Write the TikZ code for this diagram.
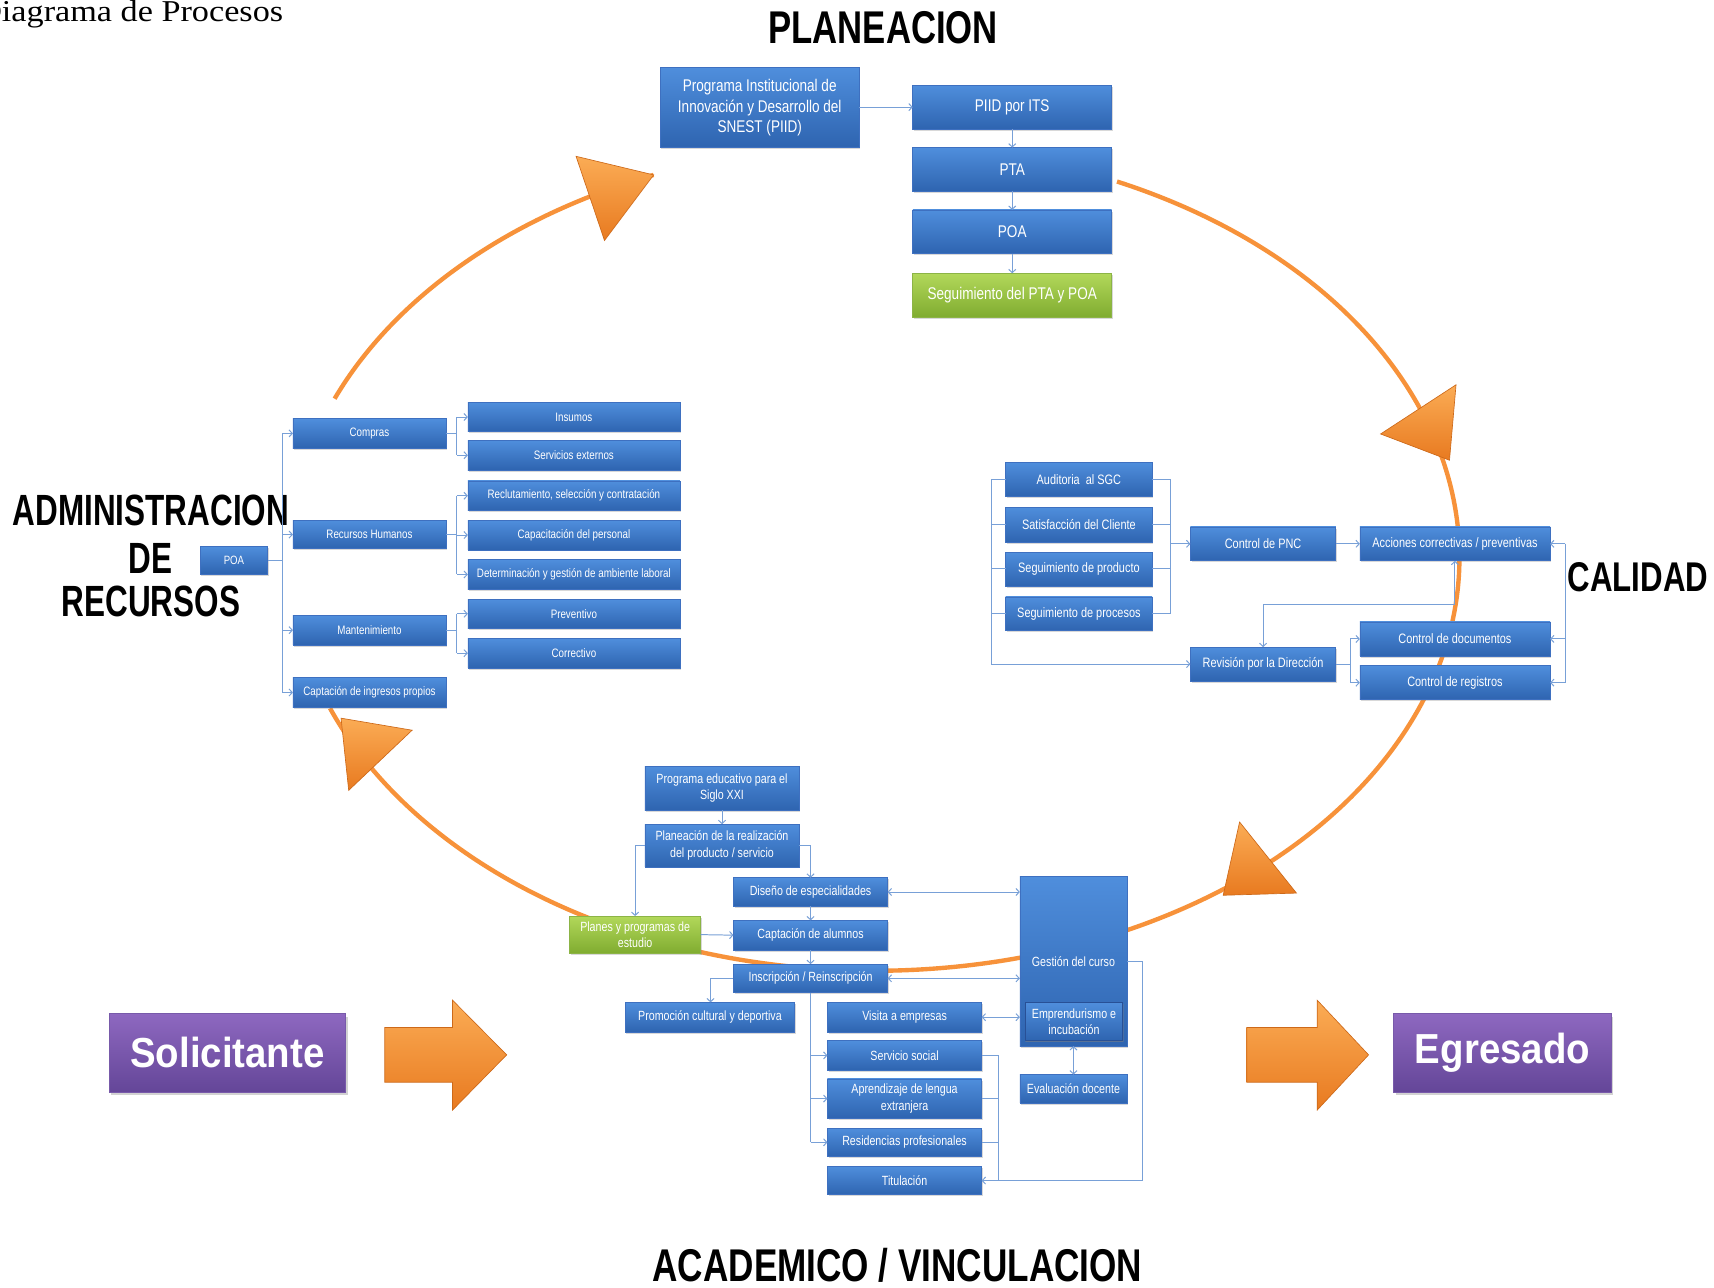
\documentclass[tikz,border=0pt]{standalone}
\usepackage{graphicx}
\usepackage{fontspec}
\setmainfont{Liberation Sans}
\newfontfamily\nar{Liberation Sans}[FakeStretch=0.8]
\newfontfamily\hdf{Liberation Sans}[FakeStretch=0.915]
\newfontfamily\serf{Liberation Serif}
\usetikzlibrary{arrows.meta,shadows}
\definecolor{bluetop}{RGB}{79,142,220}
\definecolor{bluebot}{RGB}{46,100,176}
\definecolor{bluebd}{RGB}{62,112,192}
\definecolor{innerbd}{RGB}{40,80,150}
\definecolor{greentop}{RGB}{178,216,90}
\definecolor{greenbot}{RGB}{128,172,48}
\definecolor{greenbd}{RGB}{140,180,70}
\definecolor{purtop}{RGB}{142,104,192}
\definecolor{purbot}{RGB}{100,70,152}
\definecolor{purbd}{RGB}{120,90,170}
\definecolor{connc}{RGB}{120,160,215}
\definecolor{ringc}{RGB}{247,146,58}
\definecolor{arrtop}{RGB}{251,172,85}
\definecolor{arrbot}{RGB}{232,122,32}
\definecolor{arrbd}{RGB}{205,105,25}
\newcommand\fsz[2]{\fontsize{#1}{#2}\selectfont}
\newcommand\bxat[7]{\node[#6, minimum width={(#4)-(#2)}, minimum height={(#5)-(#3)}] (#1) at ({((#2)+(#4))/2},{-((#3)+(#5))/2}) {#7};}
\begin{document}
\begin{tikzpicture}[x=1pt,y=1pt,
  >={Straight Barb[length=3pt,width=6.5pt]},
  conn/.style={draw=connc,line width=0.9pt},
  ring/.style={draw=ringc,line width=4pt},
  tri/.style={top color=arrtop,bottom color=arrbot,draw=arrbd,line width=0.6pt},
  bbox/.style={draw=bluebd,line width=0.6pt,top color=bluetop,bottom color=bluebot,text=white,align=center,inner sep=1pt,outer sep=0pt,drop shadow={shadow xshift=1pt,shadow yshift=-1.5pt,opacity=0.3}},
  gbox/.style={bbox,draw=greenbd,top color=greentop,bottom color=greenbot},
  ibox/.style={bbox,draw=innerbd,drop shadow={shadow xshift=0pt,shadow yshift=-1pt,opacity=0.3}},
  pbox/.style={draw=purbd,line width=0.8pt,top color=purtop,bottom color=purbot,text=white,align=center,inner sep=1pt,outer sep=0pt,drop shadow={shadow xshift=2pt,shadow yshift=-3pt,opacity=0.35}},
  ttl/.style={anchor=base,inner sep=0pt}]

\fill[white] (0,0) rectangle (1568,-1178);
\useasboundingbox (0,0) rectangle (1568,-1178);

% title
\node[anchor=base west,inner sep=0pt] (dtitle) at (-21,-20) {\serf\fsz{27.7}{30}\scalebox{1.13}[1]{Diagrama de Procesos}};

% ring
\draw[ring] ({800+535*cos(157.4)},{-510+378*sin(157.4)}) arc[start angle=157.4,end angle=112.2,x radius=535pt,y radius=378pt];
\draw[ring] ({800+535*cos(65.5)},{-510+378*sin(65.5)}) arc[start angle=65.5,end angle=-158.6,x radius=535pt,y radius=378pt];

% ring arrowheads
\path[tri] (527,-143) -- (598,-160) -- (553,-220) -- cycle;
\path[tri] (1332,-352) -- (1263,-397) -- (1326,-421) -- cycle;
\path[tri] (1134,-752) -- (1119,-819) -- (1186,-817) -- cycle;
\path[tri] (312,-657) -- (377,-668) -- (319,-723) -- cycle;

% big arrows
\path[tri] (352,-940) -- (414,-940) -- (414,-915) -- (463.5,-965) -- (414,-1015.5) -- (414,-990) -- (352,-990) -- cycle;
\path[tri] (1140.5,-940) -- (1205,-940) -- (1205,-915) -- (1252,-965) -- (1205,-1015.5) -- (1205,-990) -- (1140.5,-990) -- cycle;

% section titles
\node[ttl] (tplan) at (808,-39.6) {\fsz{42}{42}\bfseries\scalebox{0.756}[1]{PLANEACION}};
\node[ttl] (tadm1) at (138,-480.3) {\fsz{40}{40}\bfseries\scalebox{0.72}[1]{ADMINISTRACION}};
\node[ttl] (tadm2) at (138,-524.5) {\fsz{40}{40}\bfseries\scalebox{0.72}[1]{DE}};
\node[ttl] (tadm3) at (138,-564) {\fsz{40}{40}\bfseries\scalebox{0.72}[1]{RECURSOS}};
\node[ttl] (tcal) at (1498.5,-541.3) {\fsz{38}{38}\bfseries\scalebox{0.752}[1]{CALIDAD}};
\node[ttl] (taca) at (821,-1172.5) {\fsz{42}{42}\bfseries\scalebox{0.765}[1]{ACADEMICO / VINCULACION}};

% PLANEACION
\bxat{prog}{604}{62}{786}{135}{bbox,font=\nar\fsz{15.5}{19}}{Programa Institucional de\\Innovación y Desarrollo del\\SNEST (PIID)}
\bxat{piid}{835}{78}{1017}{118}{bbox,font=\nar\fsz{15.5}{19}}{PIID por ITS}
\bxat{pta}{835}{135}{1017}{175}{bbox,font=\nar\fsz{15.5}{19}}{PTA}
\bxat{poaP}{835}{192}{1017}{232}{bbox,font=\nar\fsz{15.5}{19}}{POA}
\bxat{segP}{835}{250}{1017}{290}{gbox,font=\nar\fsz{15.5}{19}}{Seguimiento del PTA y POA}

% ADMINISTRACION
\bxat{poaA}{183}{500}{245}{525}{bbox,font=\nar\fsz{11}{13}}{POA}
\bxat{compras}{268}{383}{408}{410}{bbox,font=\nar\fsz{11.2}{13}}{Compras}
\bxat{rh}{268}{476}{408}{502}{bbox,font=\nar\fsz{11.2}{13}}{Recursos Humanos}
\bxat{mant}{268}{563}{408}{590}{bbox,font=\nar\fsz{11.2}{13}}{Mantenimiento}
\bxat{captip}{268}{620}{408}{647}{bbox,font=\nar\fsz{11.2}{13}}{Captación de ingresos propios}
\bxat{insumos}{428}{368}{622}{395}{bbox,font=\nar\fsz{11.2}{13}}{Insumos}
\bxat{sext}{428}{403}{622}{430}{bbox,font=\nar\fsz{11.2}{13}}{Servicios externos}
\bxat{recl}{428}{440}{622}{467}{bbox,font=\nar\fsz{11.2}{13}}{Reclutamiento, selección y contratación}
\bxat{capa}{428}{476}{622}{503}{bbox,font=\nar\fsz{11.2}{13}}{Capacitación del personal}
\bxat{det}{428}{512}{622}{539}{bbox,font=\nar\fsz{11.2}{13}}{Determinación y gestión de ambiente laboral}
\bxat{prev}{428}{548}{622}{575}{bbox,font=\nar\fsz{11.2}{13}}{Preventivo}
\bxat{corr}{428}{584}{622}{611}{bbox,font=\nar\fsz{11.2}{13}}{Correctivo}

% CALIDAD
\bxat{aud}{920}{423}{1054}{454}{bbox,font=\nar\fsz{12.5}{15}}{Auditoria\ \ al SGC}
\bxat{sat}{920}{464}{1054}{496}{bbox,font=\nar\fsz{12.5}{15}}{Satisfacción del Cliente}
\bxat{prod}{920}{505}{1054}{536}{bbox,font=\nar\fsz{12.5}{15}}{Seguimiento de producto}
\bxat{proc}{920}{546}{1054}{577}{bbox,font=\nar\fsz{12.5}{15}}{Seguimiento de procesos}
\bxat{pnc}{1089}{482}{1222}{513}{bbox,font=\nar\fsz{12.5}{15}}{Control de PNC}
\bxat{acc}{1244}{482}{1418}{513}{bbox,font=\nar\fsz{12.5}{15}}{Acciones correctivas / preventivas}
\bxat{rev}{1089}{592}{1222}{623}{bbox,font=\nar\fsz{12.5}{15}}{Revisión por la Dirección}
\bxat{doc}{1244}{569}{1418}{600}{bbox,font=\nar\fsz{12.5}{15}}{Control de documentos}
\bxat{reg}{1244}{609}{1418}{640}{bbox,font=\nar\fsz{12.5}{15}}{Control de registros}

% ACADEMICO
\bxat{pe}{590}{701}{731}{741}{bbox,font=\nar\fsz{12.2}{15}}{Programa educativo para el\\Siglo XXI}
\bxat{plan}{590}{754}{731}{793}{bbox,font=\nar\fsz{12.2}{15}}{Planeación de la realización\\del producto / servicio}
\bxat{dis}{671}{803}{812}{829}{bbox,font=\nar\fsz{12.2}{15}}{Diseño de especialidades}
\bxat{planes}{521}{838}{641}{872}{gbox,font=\nar\fsz{12.2}{15}}{Planes y programas de\\estudio}
\bxat{capal}{671}{842}{812}{869}{bbox,font=\nar\fsz{12.2}{15}}{Captación de alumnos}
\bxat{insc}{671}{882}{812}{908}{bbox,font=\nar\fsz{12.2}{15}}{Inscripción / Reinscripción}
\bxat{prom}{572}{917}{727}{944}{bbox,font=\nar\fsz{12.2}{15}}{Promoción cultural y deportiva}
\bxat{vis}{757}{917}{898}{944}{bbox,font=\nar\fsz{12.2}{15}}{Visita a empresas}
\bxat{ss}{757}{952}{898}{979}{bbox,font=\nar\fsz{12.2}{15}}{Servicio social}
\bxat{apr}{757}{987}{898}{1023}{bbox,font=\nar\fsz{12.2}{15}}{Aprendizaje de lengua\\extranjera}
\bxat{res}{757}{1032}{898}{1058}{bbox,font=\nar\fsz{12.2}{15}}{Residencias profesionales}
\bxat{tit}{757}{1067}{898}{1093}{bbox,font=\nar\fsz{12.2}{15}}{Titulación}
\bxat{ges}{933}{802}{1031}{957}{bbox,font=\nar\fsz{12.2}{15}}{Gestión del curso}
\bxat{emp}{938}{917}{1027}{952}{ibox,font=\nar\fsz{12.2}{15}}{Emprendurismo e\\incubación}
\bxat{eva}{933}{983}{1031}{1009}{bbox,font=\nar\fsz{12.2}{15}}{Evaluación docente}

% Solicitante / Egresado
\bxat{sol}{100}{927}{316}{999}{pbox,font=\hdf\bfseries\fsz{38.4}{40}}{Solicitante}
\bxat{egr}{1275}{927}{1474}{999}{pbox,font=\hdf\bfseries\fsz{38.4}{40}}{Egresado}

% ---- connectors PLANEACION
\draw[conn,->] (piid.west -| prog.east) -- (piid.west);
\draw[conn,->] (piid.south) -- (pta.north);
\draw[conn,->] (pta.south) -- (poaP.north);
\draw[conn,->] (poaP.south) -- (segP.north);

% ---- connectors ADMINISTRACION
\coordinate (sp) at (258,0);
\coordinate (s2) at (418,0);
\draw[conn] (compras.west -| sp) -- (captip.west -| sp);
\draw[conn] (poaA.east) -- (poaA.east -| sp);
\draw[conn,->] (compras.west -| sp) -- (compras.west);
\draw[conn,->] (rh.west -| sp) -- (rh.west);
\draw[conn,->] (mant.west -| sp) -- (mant.west);
\draw[conn,->] (captip.west -| sp) -- (captip.west);
\draw[conn] (compras.east) -- (compras.east -| s2);
\draw[conn] (insumos.west -| s2) -- (sext.west -| s2);
\draw[conn,->] (insumos.west -| s2) -- (insumos.west);
\draw[conn,->] (sext.west -| s2) -- (sext.west);
\draw[conn] (rh.east) -- (rh.east -| s2);
\draw[conn] (recl.west -| s2) -- (det.west -| s2);
\draw[conn,->] (recl.west -| s2) -- (recl.west);
\draw[conn,->] (capa.west -| s2) -- (capa.west);
\draw[conn,->] (det.west -| s2) -- (det.west);
\draw[conn] (mant.east) -- (mant.east -| s2);
\draw[conn] (prev.west -| s2) -- (corr.west -| s2);
\draw[conn,->] (prev.west -| s2) -- (prev.west);
\draw[conn,->] (corr.west -| s2) -- (corr.west);

% ---- connectors CALIDAD
\coordinate (qL) at (907,0);
\coordinate (qR) at (1071,0);
\coordinate (qM) at (1331,-552.6);
\coordinate (qD) at (1235,0);
\coordinate (qS) at (1432,0);
\draw[conn] (aud.west) -- (aud.west -| qL) -- (rev.west -| qL);
\draw[conn] (sat.west) -- (sat.west -| qL);
\draw[conn] (prod.west) -- (prod.west -| qL);
\draw[conn] (proc.west) -- (proc.west -| qL);
\draw[conn,->] (rev.west -| qL) -- (rev.west);
\draw[conn] (aud.east) -- (aud.east -| qR) -- (proc.east -| qR) -- (proc.east);
\draw[conn] (sat.east) -- (sat.east -| qR);
\draw[conn] (prod.east) -- (prod.east -| qR);
\draw[conn,->] (pnc.west -| qR) -- (pnc.west);
\draw[conn,->] (pnc.east) -- (acc.west);
\draw[conn,<->] (rev.north) -- (rev.north |- qM) -- (qM) -- (qM |- acc.south);
\draw[conn] (rev.east) -- (rev.east -| qD);
\draw[conn] (doc.west -| qD) -- (reg.west -| qD);
\draw[conn,->] (doc.west -| qD) -- (doc.west);
\draw[conn,->] (reg.west -| qD) -- (reg.west);
\draw[conn] (acc.east -| qS) -- (reg.east -| qS);
\draw[conn,->] (acc.east -| qS) -- (acc.east);
\draw[conn,->] (doc.east -| qS) -- (doc.east);
\draw[conn,->] (reg.east -| qS) -- (reg.east);

% ---- connectors ACADEMICO
\coordinate (a1) at (581,0);
\coordinate (a2) at (650,0);
\coordinate (a3) at (913,0);
\coordinate (a4) at (1045,0);
\draw[conn,->] (pe.south) -- (plan.north);
\draw[conn,->] (plan.west) -- (plan.west -| a1) -- (a1 |- planes.north);
\draw[conn,->] (plan.east) -- (plan.east -| dis.north) -- (dis.north);
\draw[conn,->] (dis.south) -- (capal.north);
\draw[conn,->] (planes.east) -- (capal.west);
\draw[conn,->] (capal.south) -- (insc.north);
\draw[conn,<->] (dis.east) -- (dis.east -| ges.west);
\draw[conn,<->] (insc.east) -- (insc.east -| ges.west);
\draw[conn,->] (insc.west) -- (insc.west -| a2) -- (a2 |- prom.north);
\draw[conn] (insc.south) -- (insc.south |- res.west);
\draw[conn,->] (insc.south |- ss.west) -- (ss.west);
\draw[conn,->] (insc.south |- apr.west) -- (apr.west);
\draw[conn,->] (insc.south |- res.west) -- (res.west);
\draw[conn,<->] (vis.east) -- (vis.east -| ges.west);
\draw[conn,<->] (ges.south) -- (eva.north);
\draw[conn] (ss.east) -- (ss.east -| a3) -- (tit.east -| a3);
\draw[conn] (apr.east) -- (apr.east -| a3);
\draw[conn] (res.east) -- (res.east -| a3);
\draw[conn,->] (ges.east) -- (ges.east -| a4) -- (a4 |- tit.east) -- (tit.east);
\end{tikzpicture}
\end{document}
